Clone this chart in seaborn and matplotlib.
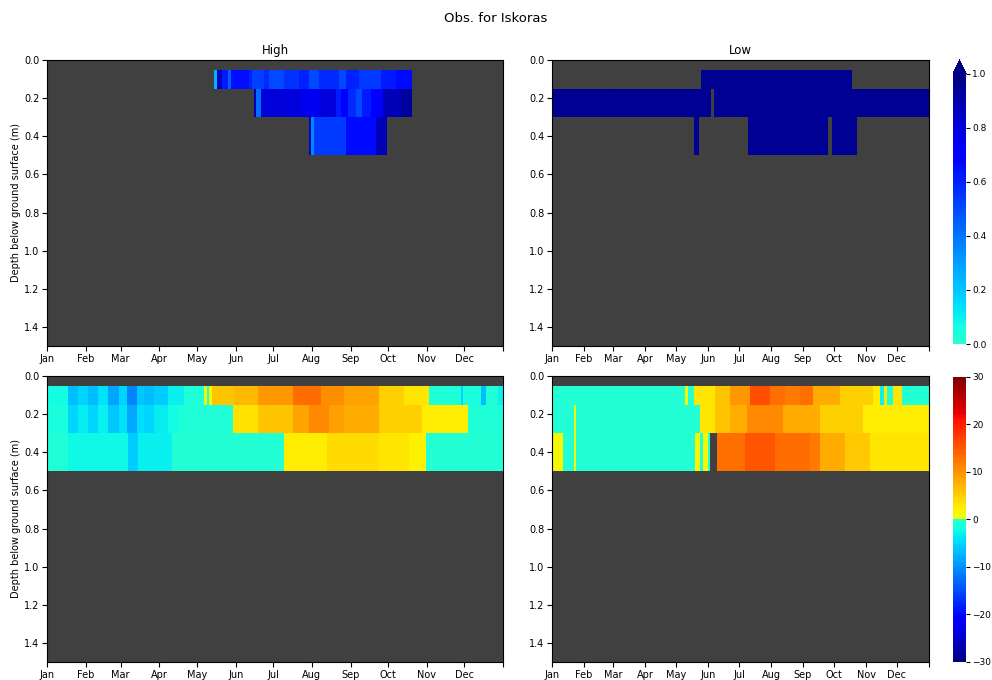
import matplotlib

matplotlib.use("Agg")
import matplotlib.pyplot as plt
import numpy as np
import seaborn as sns
from matplotlib.colors import ListedColormap

# sensor layers (m below surface): 0.05-0.15, 0.15-0.30, 0.30-0.50
DEPTH_EDGES = [0.05, 0.15, 0.30, 0.50]
MONTHS = ["Jan", "Feb", "Mar", "Apr", "May", "Jun", "Jul", "Aug", "Sep", "Oct", "Nov", "Dec"]
MONTH_START = [0, 31, 59, 90, 120, 151, 181, 212, 243, 273, 304, 334]
DEPTH_TICKS = [0.0, 0.2, 0.4, 0.6, 0.8, 1.0, 1.2, 1.4]

# step series: (day of year, value) holds until the next day; None = no data
HIGH_WATER_L1 = [(134, 0.25), (136, 0.85), (140, 0.62), (145, 0.45), (147, 0.65), (162, 0.6),
                 (164, 0.52), (174, 0.58), (178, 0.5), (190, 0.56), (202, 0.6), (210, 0.5),
                 (218, 0.58), (234, 0.5), (239, 0.6), (250, 0.55), (267, 0.62), (279, 0.66),
                 (292, None)]
HIGH_WATER_L2 = [(166, 0.9), (167, 0.42), (171, 0.8), (203, 0.75), (219, 0.8), (231, 0.62),
                 (235, 0.72), (241, 0.58), (247, 0.5), (252, 0.62), (259, 0.72), (269, 0.88),
                 (283, 0.93), (292, None)]
HIGH_WATER_L3 = [(210, 0.85), (211, 0.35), (214, 0.55), (239, 0.66), (263, 0.88), (272, None)]

LOW_WATER_L1 = [(144, 0.96), (290, None)]
LOW_WATER_L2 = [(0, 0.96), (54, 0.92), (55, 0.96), (154, None), (157, 0.96), (365, None)]
LOW_WATER_L3 = [(137, 0.95), (142, None), (190, 0.96), (267, None), (271, 0.96), (295, None)]

HIGH_TEMP_L1 = [(0, -2), (17, -7), (25, -5), (33, -7), (41, -4), (49, -8.5), (58, -5),
                (64, -11), (72, -6), (78, -7), (86, -5.5), (97, -3), (110, -1), (126, 1),
                (128, -0.5), (130, 1.5), (132, 6), (150, 7), (169, 9.5), (197, 13.5),
                (219, 10.5), (238, 8.5), (266, 5), (286, 3), (306, -1), (331, -5),
                (333, -1.5), (347, -7), (351, -1), (361, -3), (365, None)]
HIGH_TEMP_L2 = [(0, -1.5), (17, -5), (25, -3.5), (33, -5), (41, -3), (49, -6), (58, -4),
                (64, -8), (72, -4.5), (78, -5), (86, -3.5), (97, -2), (106, -0.8),
                (149, 3.5), (169, 6), (197, 8.5), (210, 11), (226, 9), (238, 8), (266, 5),
                (300, 2.5), (337, -0.8), (365, None)]
HIGH_TEMP_L3 = [(0, -1), (17, -2.5), (65, -5.5), (73, -3), (100, -0.7), (190, 2.5),
                (224, 4), (266, 3), (290, 2), (303, -0.7), (365, None)]

LOW_TEMP_L1 = [(0, -0.6), (129, 1), (132, -0.6), (137, 3), (158, 6), (172, 9.5), (192, 16),
               (211, 13), (226, 12), (240, 13), (253, 8), (279, 5), (311, 2.5), (318, -3),
               (321, 3), (324, -1), (330, 3), (339, -0.6), (365, None)]
LOW_TEMP_L2 = [(0, -0.6), (21, 0.5), (23, -0.6), (143, 3), (158, 6), (172, 7.5), (189, 11),
               (224, 8), (259, 5), (301, 2.5), (365, None)]
LOW_TEMP_L3 = [(0, 1.5), (11, -0.6), (21, 0.5), (23, -0.6), (138, 1.5), (143, -0.6),
               (146, 1.5), (151, -0.6), (153, None), (160, 13), (187, 15), (216, 13.5),
               (250, 12), (259, 8), (284, 5.5), (308, 3), (365, None)]

DZ = 0.05
MAX_DEPTH = 1.5
N_DAYS = 365


def build_grid(layers):
    grid = np.full((int(round(MAX_DEPTH / DZ)), N_DAYS), np.nan)
    for k, steps in enumerate(layers):
        r0 = int(round(DEPTH_EDGES[k] / DZ))
        r1 = int(round(DEPTH_EDGES[k + 1] / DZ))
        for (d0, v), (d1, _) in zip(steps[:-1], steps[1:]):
            if v is not None:
                grid[r0:r1, d0:d1] = v
    return grid


jet = plt.get_cmap("jet")
water_cmap = ListedColormap(jet(np.linspace(0.4, 0.0, 256)))
temp_cmap = ListedColormap(np.vstack([jet(np.linspace(0.0, 0.4, 128)),
                                      jet(np.linspace(0.63, 1.0, 128))]))

fig = plt.figure(figsize=(9.92, 6.8), dpi=100)
fig.suptitle("Obs. for Iskoras", fontsize=9.5, y=0.982)

panels = [
    ([0.0474, 0.4912, 0.4597, 0.4206], [HIGH_WATER_L1, HIGH_WATER_L2, HIGH_WATER_L3], "water", "High"),
    ([0.5565, 0.4912, 0.3800, 0.4206], [LOW_WATER_L1, LOW_WATER_L2, LOW_WATER_L3], "water", "Low"),
    ([0.0474, 0.0265, 0.4597, 0.4206], [HIGH_TEMP_L1, HIGH_TEMP_L2, HIGH_TEMP_L3], "temp", ""),
    ([0.5565, 0.0265, 0.3800, 0.4206], [LOW_TEMP_L1, LOW_TEMP_L2, LOW_TEMP_L3], "temp", ""),
]
cbar_axes = {
    "water": fig.add_axes([0.9607, 0.4941, 0.0131, 0.4177]),
    "temp": fig.add_axes([0.9607, 0.0265, 0.0131, 0.4191]),
}
scales = {
    "water": dict(cmap=water_cmap, vmin=0, vmax=1, cbar_kws={"extend": "max", "ticks": [0, 0.2, 0.4, 0.6, 0.8, 1.0]}),
    "temp": dict(cmap=temp_cmap, vmin=-30, vmax=30, cbar_kws={"ticks": [-30, -20, -10, 0, 10, 20, 30]}),
}

for i, (pos, layers, kind, title) in enumerate(panels):
    ax = fig.add_axes(pos)
    ax.set_facecolor("#404040")
    grid = build_grid(layers)
    with_cbar = i % 2 == 1
    sns.heatmap(grid, ax=ax, cbar=with_cbar, cbar_ax=cbar_axes[kind] if with_cbar else None,
                xticklabels=False, yticklabels=False, rasterized=True, **scales[kind])
    for s in ax.spines.values():
        s.set_visible(True)
        s.set_linewidth(0.8)
    ax.set_xticks(MONTH_START + [N_DAYS])
    ax.set_xticklabels(MONTHS + [""], fontsize=7, rotation=0)
    ax.set_yticks([d / DZ for d in DEPTH_TICKS])
    ax.set_yticklabels([f"{d:.1f}" for d in DEPTH_TICKS], fontsize=7, rotation=0)
    ax.tick_params(length=3.5, width=0.8, pad=2)
    if title:
        ax.set_title(title, fontsize=8.5, pad=4)
    if i % 2 == 0:
        ax.set_ylabel("Depth below ground surface (m)", fontsize=7, labelpad=2)

for cax in cbar_axes.values():
    cax.tick_params(labelsize=6.5, length=3, width=0.8, pad=1.5)

fig.savefig("out.png", dpi=100)
